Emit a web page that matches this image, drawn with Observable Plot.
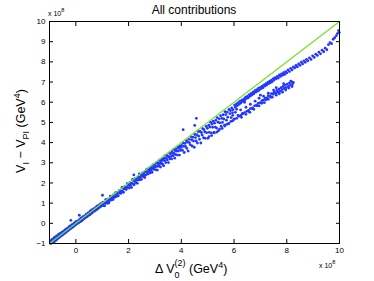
<!DOCTYPE html>
<html><head><meta charset="utf-8">
<script src="https://cdn.jsdelivr.net/npm/d3@7"></script>
<script src="https://cdn.jsdelivr.net/npm/@observablehq/plot@0.6"></script>
<style>body{margin:0;background:#fff}</style>
</head><body><div id="chart"></div>
<script>
// values in units of 10^8 GeV^4
const xTicks = [0, 2, 4, 6, 8, 10];
const yTicks = [-1, 0, 1, 2, 3, 4, 5, 6, 7, 8, 9, 10];
const diagonal = [-1, 10];

const lowBand = [[-0.97,-0.92],[-0.95,-1.0],[-0.93,-0.85],[-0.91,-0.96],[-0.9,-0.8],[-0.88,-0.93],[-0.86,-0.78],[-0.85,-0.88],[-0.83,-0.74],[-0.81,-0.9],[-0.8,-0.69],[-0.78,-0.82],[-0.76,-0.71],[-0.75,-0.84],[-0.73,-0.62],[-0.71,-0.77],[-0.7,-0.66],[-0.68,-0.74],[-0.66,-0.55],[-0.65,-0.7],[-0.63,-0.6],[-0.61,-0.68],[-0.6,-0.5],[-0.58,-0.63],[-0.56,-0.52],[-0.55,-0.61],[-0.53,-0.44],[-0.51,-0.57],[-0.5,-0.47],[-0.48,-0.55],[-0.46,-0.38],[-0.45,-0.5],[-0.43,-0.41],[-0.41,-0.48],[-0.4,-0.31],[-0.38,-0.44],[-0.36,-0.33],[-0.35,-0.41],[-0.33,-0.25],[-0.31,-0.37],[-0.3,-0.28],[-0.28,-0.34],[-0.26,-0.17],[-0.25,-0.3],[-0.23,-0.21],[-0.21,-0.27],[-0.2,-0.12],[-0.18,-0.24],[-0.16,-0.14],[-0.15,-0.21],[-0.13,-0.05],[-0.11,-0.17],[-0.1,-0.08],[-0.08,-0.14],[-0.06,0.02],[-0.05,-0.1],[-0.03,-0.02],[-0.01,-0.07],[0.0,0.08],[0.02,-0.03],[0.04,0.04],[0.05,-0.01],[0.07,0.12],[0.09,0.02],[0.1,0.09],[0.12,0.05],[0.14,0.2],[0.15,0.08],[0.17,0.15],[0.19,0.1],[0.2,0.27],[0.22,0.14],[0.24,0.22],[0.25,0.16],[0.27,0.33],[0.29,0.21],[0.3,0.28],[0.32,0.24],[0.34,0.38],[0.35,0.27],[0.37,0.34],[0.39,0.31],[0.4,0.46],[0.42,0.33],[0.44,0.41],[0.45,0.37],[0.47,0.52],[0.49,0.4],[0.5,0.47],[0.52,0.43],[0.54,0.6],[0.55,0.46],[0.57,0.53],[0.59,0.5],[0.6,0.66],[0.62,0.53],[0.64,0.6],[0.65,0.57],[0.67,0.72],[0.69,0.6],[0.7,0.66],[0.72,0.63],[0.74,0.78],[0.75,0.65],[0.77,0.72],[0.79,0.69],[0.8,0.85],[0.82,0.72],[0.84,0.79],[0.85,0.75],[0.87,0.9],[0.89,0.79],[0.9,0.86],[0.92,0.82],[0.94,0.97],[0.95,0.85],[0.97,0.91],[0.99,0.88]];

const midBand = [[1.01,0.93],[1.03,1.05],[1.05,0.88],[1.07,1.03],[1.09,0.87],[1.11,1.0],[1.13,1.17],[1.15,1.01],[1.17,1.11],[1.19,0.99],[1.21,1.2],[1.23,1.11],[1.25,1.01],[1.27,1.2],[1.29,1.13],[1.31,1.34],[1.33,1.23],[1.35,1.16],[1.37,1.32],[1.39,1.26],[1.41,1.18],[1.43,1.41],[1.45,1.36],[1.47,1.29],[1.49,1.37],[1.51,1.52],[1.53,1.32],[1.55,1.48],[1.57,1.42],[1.59,1.55],[1.61,1.36],[1.63,1.53],[1.65,1.63],[1.67,1.5],[1.69,1.61],[1.71,1.49],[1.73,1.6],[1.75,1.78],[1.77,1.58],[1.79,1.73],[1.81,1.54],[1.83,1.72],[1.85,1.82],[1.87,1.71],[1.89,1.8],[1.91,1.67],[1.93,1.79],[1.95,1.97],[1.97,1.77],[1.99,1.92],
[2.01,1.89],[2.03,1.75],[2.05,2.01],[2.07,1.88],[2.09,2.0],[2.11,1.78],[2.13,1.98],[2.15,2.18],[2.17,1.95],[2.19,2.12],[2.21,1.91],[2.23,2.1],[2.25,2.23],[2.27,2.02],[2.29,2.19],[2.31,2.13],[2.33,1.98],[2.35,2.29],[2.37,2.16],[2.39,2.27],[2.41,2.45],[2.43,2.16],[2.45,2.29],[2.47,2.39],[2.49,2.18],[2.51,2.37],[2.53,2.5],[2.55,2.32],[2.57,2.46],[2.59,2.4],[2.61,2.27],[2.63,2.56],[2.65,2.39],[2.67,2.54],[2.69,2.68],[2.71,2.51],[2.73,2.44],[2.75,2.65],[2.77,2.6],[2.79,2.74],[2.81,2.49],[2.83,2.68],[2.85,2.61],[2.87,2.78],[2.89,2.53],[2.91,2.73],[2.93,2.9],[2.95,2.68],[2.97,2.85],[2.99,2.78],
[3.01,2.87],[3.03,2.65],[3.05,2.99],[3.07,2.82],[3.09,2.64],[3.11,3.0],[3.13,2.94],[3.15,2.83],[3.17,3.13],[3.19,2.97],[3.21,2.79],[3.23,3.08],[3.25,2.97],[3.27,3.19],[3.29,2.93],[3.31,3.13],[3.33,2.85],[3.35,3.23],[3.37,3.11],[3.39,3.37],[3.41,3.01],[3.43,3.22],[3.45,3.36],[3.47,3.14],[3.49,3.33],[3.51,3.01],[3.53,3.29],[3.55,3.48],[3.57,3.2],[3.59,3.45],[3.61,3.32],[3.63,3.19],[3.65,3.55],[3.67,3.47],[3.69,3.35],[3.71,3.66],[3.73,3.46],[3.75,3.23],[3.77,3.6],[3.79,3.4],[3.81,3.69],[3.83,3.58],[3.85,3.38],[3.87,3.79],[3.89,3.58],[3.91,3.72],[3.93,3.38],[3.95,3.82],[3.97,3.61],[3.99,3.76]];

const cloud = [[4.01,3.86],[4.04,3.62],[4.06,3.98],[4.09,3.81],[4.11,3.51],[4.14,3.96],[4.16,3.81],[4.19,4.09],[4.21,3.71],[4.24,4.02],[4.26,3.58],[4.29,4.16],[4.31,4.0],[4.34,3.89],[4.36,4.3],[4.39,4.14],[4.41,3.83],[4.44,4.27],[4.46,4.08],[4.49,3.77],[4.51,4.4],[4.54,4.25],[4.56,4.08],[4.59,4.39],[4.61,3.98],[4.64,4.55],[4.66,4.32],[4.69,4.16],[4.71,4.55],[4.74,3.98],[4.76,4.5],[4.79,4.38],[4.81,4.69],[4.84,4.24],[4.86,4.64],[4.89,4.53],[4.91,4.21],[4.94,4.8],[4.96,4.49],[4.99,4.71],[5.01,4.21],[5.04,4.86],[5.06,4.51],[5.09,4.77],[5.11,5.01],[5.14,4.48],[5.16,4.92],[5.19,4.76],[5.21,5.06],[5.24,4.5],[5.26,4.96],[5.29,4.77],[5.31,5.11],[5.34,4.72],[5.36,5.24],[5.39,5.01],[5.41,4.59],[5.44,5.18],[5.46,4.98],[5.49,5.33],[5.51,4.81],[5.54,5.2],[5.56,5.0],[5.59,5.38],[5.61,5.17],[5.64,4.86],[5.66,5.53],[5.69,5.39],[5.71,5.11],[5.74,5.51],[5.76,5.26],[5.79,4.93],[5.81,5.64],[5.84,5.44],[5.86,5.59],[5.89,5.24],[5.91,5.72],[5.94,5.48],[5.96,5.63],[5.99,5.15],
[6.05,5.5],[6.15,5.35],[6.25,5.62],[6.32,5.45],[6.45,5.75],[6.55,5.55],[6.62,5.9],[6.7,5.68],[6.8,6.05],[6.88,5.82],[6.95,6.2],[7.05,5.95],[7.12,6.3],[7.22,6.12],[7.3,6.45],[7.4,6.25],[7.5,6.6],[6.4,6.0],[6.1,5.65],[5.95,5.35],[7.0,6.35],[7.6,6.72]];

const upperRidge = [[6.02,5.86],[6.05,5.75],[6.09,5.92],[6.12,5.83],[6.16,5.98],[6.19,5.9],[6.23,6.05],[6.26,5.96],[6.3,6.1],[6.33,6.04],[6.37,6.16],[6.4,6.1],[6.44,6.25],[6.47,6.18],[6.51,6.3],[6.54,6.22],[6.58,6.38],[6.61,6.3],[6.65,6.44],[6.68,6.36],[6.72,6.5],[6.75,6.42],[6.79,6.57],[6.82,6.5],[6.86,6.62],[6.89,6.55],[6.93,6.7],[6.96,6.6],[7.0,6.74],[7.03,6.68],[7.07,6.8],[7.1,6.72],[7.14,6.86],[7.17,6.8],[7.21,6.92],[7.24,6.85],[7.28,6.98],[7.31,6.92],[7.35,7.04],[7.38,6.97],[7.42,7.1],[7.45,7.02],[7.49,7.17],[7.52,7.1],[7.56,7.22],[7.6,7.16],[7.64,7.28],[7.68,7.2],[7.72,7.35],[7.76,7.28],[7.8,7.4],[7.84,7.34],[7.88,7.46],[7.92,7.38],[7.96,7.52],[8.0,7.45],[8.05,7.6],[8.1,7.52],[8.15,7.68],[8.2,7.6],[8.25,7.75],[8.3,7.7],[8.35,7.82],[8.4,7.75],[8.45,7.9],[8.5,7.83],[8.55,7.98],[8.6,7.9],[8.65,8.05],[8.7,7.98],[8.75,8.12],[8.8,8.05],[8.86,8.2],[8.92,8.12],[8.98,8.3],[9.04,8.22],[9.1,8.38],[9.16,8.32],[9.22,8.48],[9.28,8.4],[9.34,8.58],[9.4,8.5],[9.46,8.68],[9.52,8.6],[9.58,8.85],[9.64,8.95],[9.7,8.9],[9.76,9.12],[9.82,9.2],[9.88,9.3],[9.92,9.4],[9.96,9.55],[9.99,9.45]];

const lowerBranch = [[5.05,4.3],[5.15,4.35],[5.25,4.48],[5.35,4.52],[5.45,4.66],[5.55,4.7],[5.65,4.82],[5.72,4.9],[5.8,4.95],[5.88,5.05],[5.95,5.08],[6.02,5.18],[6.1,5.2],[6.18,5.3],[6.25,5.35],[6.32,5.42],[6.4,5.48],[6.48,5.55],[6.55,5.6],[6.62,5.68],[6.7,5.72],[6.78,5.82],[6.85,5.85],[6.92,5.95],[7.0,5.98],[7.06,6.08],[7.12,6.1],[7.18,6.2],[7.25,6.22],[7.3,6.32],[7.36,6.3],[7.42,6.42],[7.48,6.4],[7.52,6.5],[7.58,6.45],[7.62,6.58],[7.66,6.5],[7.7,6.65],[7.74,6.55],[7.78,6.72],[7.82,6.62],[7.86,6.78],[7.9,6.68],[7.94,6.85],[7.98,6.72],[8.02,6.9],[8.06,6.78],[8.1,6.95],[8.14,6.85],[8.18,7.02],[8.22,6.9],[8.25,6.98],[8.2,6.78],[8.08,6.7],[7.96,6.6],[7.84,6.5],[7.72,6.42],[8.15,7.05],[7.88,6.92],[7.6,6.35],[7.45,6.25],[7.3,6.15],[7.15,5.98],[6.95,5.82],[6.75,5.65],[6.6,5.5],[6.45,5.4],[6.28,5.25]];

const outliers = [[4.57,5.2],[4.07,4.64],[4.51,4.85],[1.01,1.39],[-0.19,0.15],[0.13,0.4],[2.2,2.4]];

const points = [...lowBand, ...midBand, ...cloud, ...upperRidge, ...lowerBranch, ...outliers]
  .map(([x, y]) => ({x, y}));
const line = diagonal.map(v => ({x: v, y: v}));

const ff = "'Liberation Sans', Arial, sans-serif";
const chart = Plot.plot({
  width: 374, height: 281,
  marginLeft: 49, marginRight: 35, marginTop: 21, marginBottom: 38,
  style: {fontFamily: ff, fontSize: "8px", background: "#fff", color: "#000"},
  x: {domain: [-1, 10]},
  y: {domain: [-1, 10]},
  marks: [
    Plot.dot(points, {x: "x", y: "y", r: 1.4, fill: "#2236ff", stroke: null}),
    Plot.line(line, {x: "x", y: "y", stroke: "#72e626", strokeWidth: 1.3}),
    Plot.frame({stroke: "#000", strokeWidth: 1}),
    Plot.axisX({ticks: xTicks, tickSize: -4, text: null, label: null}),
    Plot.axisX({ticks: xTicks, anchor: "top", tickSize: -4, text: null, label: null}),
    Plot.axisX({ticks: xTicks, tickSize: 0, tickPadding: 4, label: null, fontSize: 8}),
    Plot.axisY({ticks: yTicks, tickSize: -4, text: null, label: null}),
    Plot.axisY({ticks: yTicks, anchor: "right", tickSize: -4, text: null, label: null}),
    Plot.axisY({ticks: yTicks, tickSize: 0, tickPadding: 4, label: null, fontSize: 8})
  ]
});

const svg = d3.select(chart);
svg.append("text").attr("x", 194).attr("y", 14).attr("text-anchor", "middle")
  .attr("font-size", 12).attr("font-family", ff).attr("fill", "#000").text("All contributions");

function exponent(x, y) {
  const t = svg.append("text").attr("x", x).attr("y", y).attr("text-anchor", "start")
    .attr("font-size", 7).attr("font-family", ff).attr("fill", "#000");
  t.append("tspan").text("x 10");
  t.append("tspan").attr("dy", -4).attr("font-size", 5.5).text("8");
}
exponent(48, 16);
exponent(319, 268);

const xl = svg.append("text").attr("x", 155).attr("y", 273).attr("text-anchor", "start")
  .attr("font-size", 12.5).attr("font-family", ff).attr("fill", "#000");
xl.append("tspan").text("Δ V");
xl.append("tspan").attr("dy", 5).attr("font-size", 9).text("0");
xl.append("tspan").attr("dx", -5).attr("dy", -12).attr("font-size", 9).text("(2)");
xl.append("tspan").attr("dy", 7).text(" (GeV");
xl.append("tspan").attr("dy", -5).attr("font-size", 9).text("4");
xl.append("tspan").attr("dy", 5).text(")");

const yl = svg.append("text").attr("transform", "translate(25,131) rotate(-90)").attr("text-anchor", "middle")
  .attr("font-size", 12.5).attr("font-family", ff).attr("fill", "#000");
yl.append("tspan").text("V");
yl.append("tspan").attr("dy", 4).attr("font-size", 9).text("I");
yl.append("tspan").attr("dy", -4).text(" − V");
yl.append("tspan").attr("dy", 4).attr("font-size", 9).text("PI");
yl.append("tspan").attr("dy", -4).text(" (GeV");
yl.append("tspan").attr("dy", -5).attr("font-size", 9).text("4");
yl.append("tspan").attr("dy", 5).text(")");

document.getElementById("chart").appendChild(chart);
</script>
</body></html>
